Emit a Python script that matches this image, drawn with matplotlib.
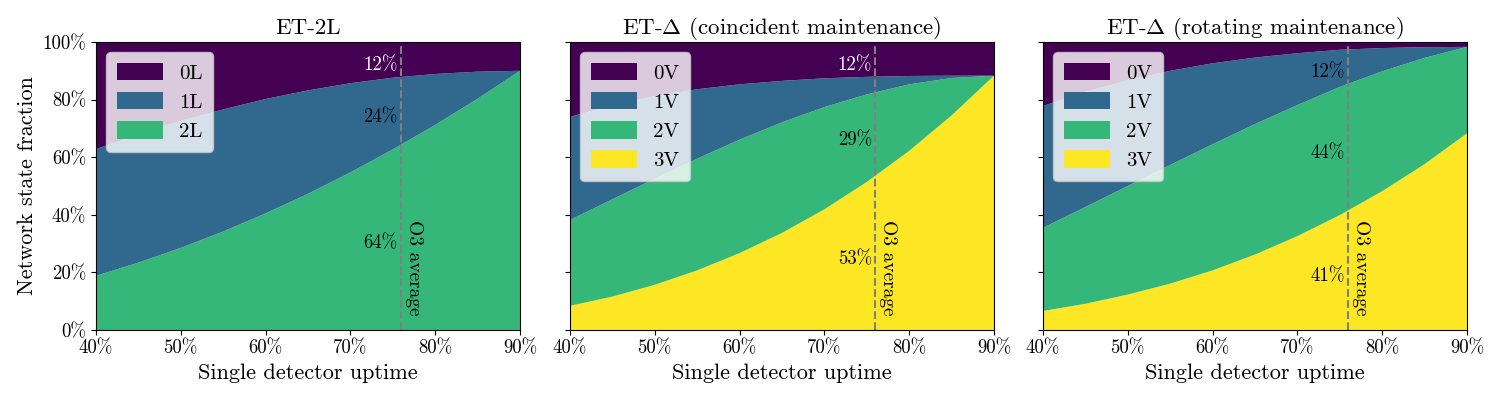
import matplotlib
matplotlib.use("Agg")
import numpy as np
import matplotlib.pyplot as plt
from matplotlib.ticker import PercentFormatter

# single detector uptime (x axis)
uptime = [0.40, 0.45, 0.50, 0.55, 0.60, 0.65, 0.70, 0.75, 0.80, 0.85, 0.90]

# ET-2L : fraction of time with 2, 1, 0 L-detectors observing
et2l_2L = [0.188, 0.234, 0.285, 0.342, 0.405, 0.473, 0.547, 0.627, 0.712, 0.803, 0.900]
et2l_1L = [0.440, 0.446, 0.441, 0.424, 0.397, 0.359, 0.310, 0.249, 0.177, 0.094, 0.000]
et2l_0L = [0.372, 0.320, 0.274, 0.234, 0.198, 0.168, 0.143, 0.124, 0.111, 0.103, 0.100]

# ET-Delta, coincident maintenance
coinc_3V = [0.084, 0.116, 0.157, 0.207, 0.267, 0.337, 0.419, 0.514, 0.622, 0.745, 0.883]
coinc_2V = [0.298, 0.338, 0.368, 0.388, 0.394, 0.384, 0.355, 0.304, 0.231, 0.130, 0.000]
coinc_1V = [0.358, 0.326, 0.287, 0.241, 0.192, 0.144, 0.100, 0.061, 0.029, 0.008, 0.000]
coinc_0V = [0.260, 0.220, 0.188, 0.164, 0.147, 0.135, 0.126, 0.121, 0.118, 0.117, 0.117]

# ET-Delta, rotating maintenance
rot_3V = [0.066, 0.091, 0.123, 0.161, 0.207, 0.262, 0.326, 0.399, 0.482, 0.576, 0.683]
rot_2V = [0.289, 0.336, 0.377, 0.412, 0.438, 0.453, 0.455, 0.445, 0.416, 0.369, 0.300]
rot_1V = [0.423, 0.400, 0.367, 0.327, 0.281, 0.231, 0.180, 0.129, 0.081, 0.037, 0.000]
rot_0V = [0.222, 0.173, 0.133, 0.100, 0.074, 0.054, 0.039, 0.027, 0.021, 0.018, 0.017]

o3_average = 0.76

titles = ["ET-2L", r"ET-$\Delta$ (coincident maintenance)", r"ET-$\Delta$ (rotating maintenance)"]
# bottom -> top
panel_states = [
    [et2l_2L, et2l_1L, et2l_0L],
    [coinc_3V, coinc_2V, coinc_1V, coinc_0V],
    [rot_3V, rot_2V, rot_1V, rot_0V],
]
panel_names = [["2L", "1L", "0L"], ["3V", "2V", "1V", "0V"], ["3V", "2V", "1V", "0V"]]
# percentages written next to the O3 line (None = not labelled)
panel_pct = [["64%", "24%", "12%"], ["53%", "29%", None, "12%"], ["41%", "44%", "12%", None]]

viridis = ["#440154", "#31688e", "#35b779", "#fde725"]

plt.rcParams["font.family"] = ["cmr10", "DejaVu Serif"]
plt.rcParams["mathtext.fontset"] = "cm"
plt.rcParams["axes.formatter.use_mathtext"] = True

fig = plt.figure(figsize=(15, 4), dpi=100)
lefts = [96 / 1500, 570 / 1500, 1043 / 1500]
axs = [fig.add_axes([l, 70 / 400, 424 / 1500, 288 / 400]) for l in lefts]

for i, ax in enumerate(axs):
    states = panel_states[i]
    n = len(states)
    cols = viridis[:n][::-1]  # last state (0L/0V) is purple
    ax.stackplot(uptime, *states, colors=cols, labels=panel_names[i])

    ax.axvline(o3_average, ymax=0.985, color="gray", ls="--", lw=1.5)

    # band labels at the O3 average
    bottom = 0.0
    for j, s in enumerate(states):
        h = np.interp(o3_average, uptime, s)
        if panel_pct[i][j] is not None:
            c = "white" if j == n - 1 else "black"
            ax.text(o3_average - 0.004, bottom + h / 2 + 0.01, panel_pct[i][j], ha="right",
                    va="top", fontsize=13.5, color=c)
        bottom += h
    ax.text(o3_average + 0.004, 0.05, "O3 average", rotation=270, ha="left",
            va="bottom", fontsize=14)

    ax.set_xlim(0.4, 0.9)
    ax.set_ylim(0, 1)
    ax.set_xticks([0.4, 0.5, 0.6, 0.7, 0.8, 0.9])
    ax.set_yticks([0, 0.2, 0.4, 0.6, 0.8, 1.0])
    ax.xaxis.set_major_formatter(PercentFormatter(1.0, decimals=0))
    ax.yaxis.set_major_formatter(PercentFormatter(1.0, decimals=0))
    ax.tick_params(labelsize=13.5)
    ax.set_xlabel("Single detector uptime", fontsize=16)
    ax.set_title(titles[i], fontsize=16.5)
    if i == 0:
        ax.set_ylabel("Network state fraction", fontsize=16)
    else:
        ax.set_yticklabels([])

    handles, labels = ax.get_legend_handles_labels()
    ax.legend(handles[::-1], labels[::-1], loc="upper left", fontsize=15,
              handlelength=2.2, handleheight=0.9, labelspacing=0.45,
              borderpad=0.5, handletextpad=0.8)

fig.savefig("out.png", dpi=100)
